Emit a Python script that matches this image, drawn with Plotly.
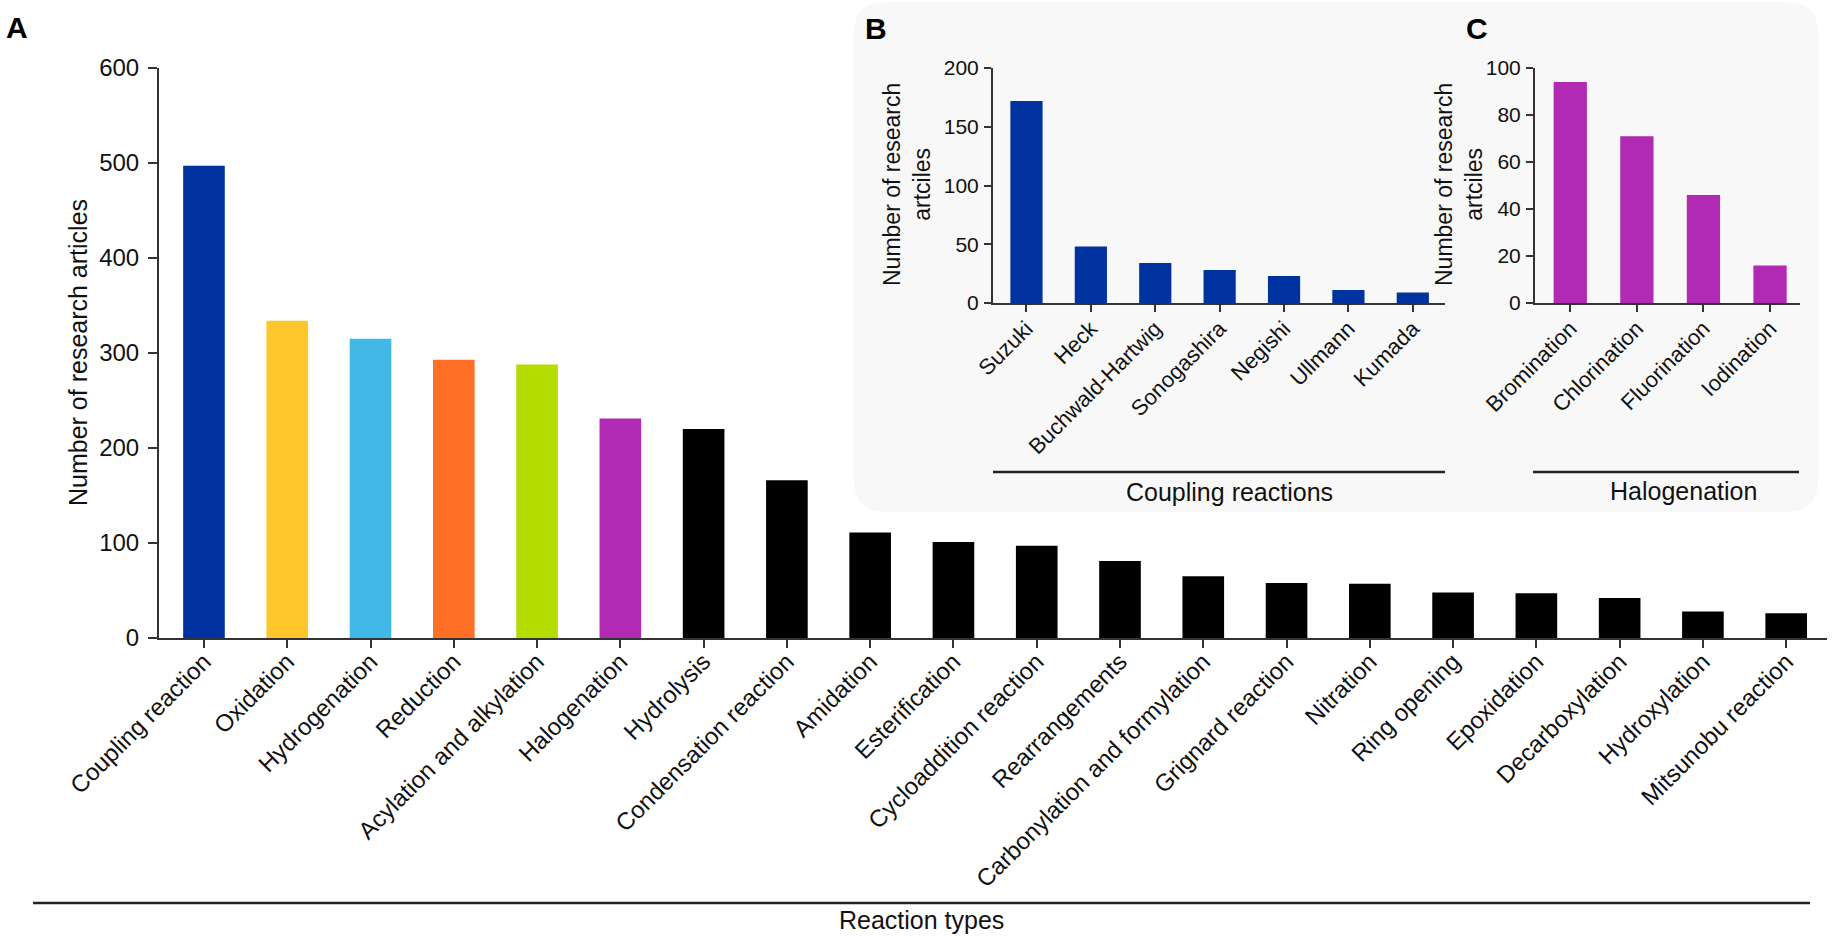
import plotly.graph_objects as go

W, H = 1833, 938


def px(x):
    return x / W


def py(y):
    return 1 - y / H


# ---------------- data ----------------
main_categories = [
    "Coupling reaction", "Oxidation", "Hydrogenation", "Reduction",
    "Acylation and alkylation", "Halogenation", "Hydrolysis",
    "Condensation reaction", "Amidation", "Esterification",
    "Cycloaddition reaction", "Rearrangements",
    "Carbonylation and formylation", "Grignard reaction", "Nitration",
    "Ring opening", "Epoxidation", "Decarboxylation", "Hydroxylation",
    "Mitsunobu reaction",
]
main_values = [497, 334, 315, 293, 288, 231, 220, 166, 111, 101,
               97, 81, 65, 58, 57, 48, 47, 42, 28, 26]

coupling_categories = ["Suzuki", "Heck", "Buchwald-Hartwig", "Sonogashira",
                       "Negishi", "Ullmann", "Kumada"]
coupling_values = [172, 48, 34, 28, 23, 11, 9]

halogen_categories = ["Bromination", "Chlorination", "Fluorination", "Iodination"]
halogen_values = [94, 71, 46, 16]

main_ticks = [0, 100, 200, 300, 400, 500, 600]
coupling_ticks = [0, 50, 100, 150, 200]
halogen_ticks = [0, 20, 40, 60, 80, 100]

# ---------------- styles ----------------
BLUE = "#0033A0"
MAGENTA = "#B12AB3"
main_colors = [BLUE, "#FFC72C", "#41B8E6", "#FF6F26", "#B5DC00", MAGENTA] + ["#000000"] * 14
FONT = "Arial, Liberation Sans, sans-serif"
AX = "#333333"

fig = go.Figure()
fig.add_trace(go.Bar(x=main_categories, y=main_values, marker=dict(color=main_colors, line=dict(width=0)),
                     width=0.5, xaxis="x", yaxis="y", hoverinfo="x+y"))
fig.add_trace(go.Bar(x=coupling_categories, y=coupling_values, marker=dict(color=BLUE, line=dict(width=0)),
                     width=0.5, xaxis="x2", yaxis="y2", hoverinfo="x+y"))
fig.add_trace(go.Bar(x=halogen_categories, y=halogen_values, marker=dict(color=MAGENTA, line=dict(width=0)),
                     width=0.5, xaxis="x3", yaxis="y3", hoverinfo="x+y"))

common = dict(showline=True, linecolor=AX, linewidth=2, ticks="outside", tickcolor=AX,
              tickwidth=2, showgrid=False, zeroline=False, fixedrange=True, automargin=False)

fig.update_layout(
    width=W, height=H,
    margin=dict(l=0, r=0, t=0, b=0, pad=0, autoexpand=False),
    paper_bgcolor="white", plot_bgcolor="rgba(0,0,0,0)",
    showlegend=False,
    font=dict(family=FONT, color="#111111"),
    xaxis=dict(common, domain=[px(159), px(1827)], range=[-0.54, 19.49], anchor="y",
               tickangle=-45, ticklen=8, tickfont=dict(size=24), ticklabelstandoff=-10),
    yaxis=dict(common, domain=[py(638), py(68)], range=[0, 600], anchor="x",
               tickvals=main_ticks, ticklen=9, tickfont=dict(size=24), ticklabelstandoff=4),
    xaxis2=dict(common, domain=[px(993), px(1445)], range=[-0.52, 6.5], anchor="y2",
                tickangle=-45, ticklen=7, tickfont=dict(size=22), ticklabelstandoff=-5),
    yaxis2=dict(common, domain=[py(303), py(68)], range=[0, 200], anchor="x2",
                tickvals=coupling_ticks, ticklen=7, tickfont=dict(size=21), ticklabelstandoff=1),
    xaxis3=dict(common, domain=[px(1535), px(1800)], range=[-0.53, 3.45], anchor="y3",
                tickangle=-45, ticklen=7, tickfont=dict(size=22), ticklabelstandoff=-5),
    yaxis3=dict(common, domain=[py(303), py(68)], range=[0, 100], anchor="x3",
                tickvals=halogen_ticks, ticklen=7, tickfont=dict(size=21), ticklabelstandoff=1),
)

# rounded background panel behind insets B and C
x0, x1 = px(854), px(1818)
yt, yb = py(2), py(512)
rx, ry = 32 / W, 32 / H
path = (f"M {x0+rx},{yt} L {x1-rx},{yt} Q {x1},{yt} {x1},{yt-ry} "
        f"L {x1},{yb+ry} Q {x1},{yb} {x1-rx},{yb} "
        f"L {x0+rx},{yb} Q {x0},{yb} {x0},{yb+ry} "
        f"L {x0},{yt-ry} Q {x0},{yt} {x0+rx},{yt} Z")
fig.add_shape(type="path", path=path, xref="paper", yref="paper",
              fillcolor="#F8F8F8", line=dict(width=0), layer="below")

# group lines under x-axes
for xa, xb, yy in [(33, 1810, 903), (993, 1445, 472), (1533, 1799, 472)]:
    fig.add_shape(type="line", xref="paper", yref="paper", x0=px(xa), x1=px(xb),
                  y0=py(yy), y1=py(yy), line=dict(color="#222222", width=2.5))

ann = []
for txt, x, y in [("A", 17, 28), ("B", 876, 29), ("C", 1477, 29)]:
    ann.append(dict(text=f"<b>{txt}</b>", x=px(x), y=py(y), xref="paper", yref="paper",
                    xanchor="center", yanchor="middle", showarrow=False,
                    font=dict(size=30, color="black", family=FONT)))
for txt, x, y in [("Reaction types", 921, 920), ("Coupling reactions", 1229, 492),
                  ("Halogenation", 1683, 491)]:
    ann.append(dict(text=txt, x=px(x), y=py(y), xref="paper", yref="paper",
                    xanchor="center", yanchor="middle", showarrow=False,
                    font=dict(size=25, color="#111111", family=FONT)))
for txt, x, y, s in [("Number of research articles", 78, 353, 25),
                     ("Number of research<br>artciles", 907, 185, 23),
                     ("Number of research<br>artciles", 1459, 185, 23)]:
    ann.append(dict(text=txt, x=px(x), y=py(y), xref="paper", yref="paper",
                    xanchor="center", yanchor="middle", showarrow=False, textangle=-90,
                    font=dict(size=s, color="#111111", family=FONT)))
fig.update_layout(annotations=ann)

fig.write_html("out.html", config={"displayModeBar": False},
               post_script="document.body.style.margin='0';document.body.style.overflow='hidden';")
